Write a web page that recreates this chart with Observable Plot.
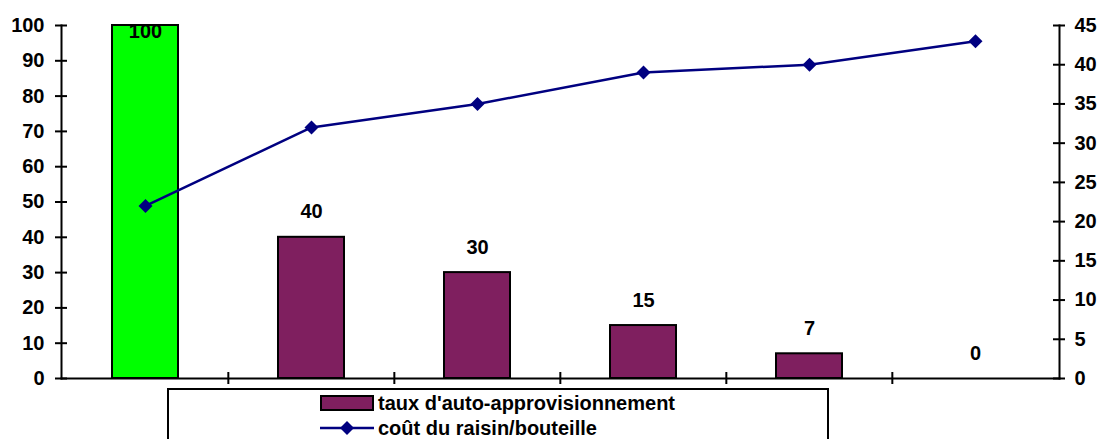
<!DOCTYPE html>
<html><head><meta charset="utf-8">
<script src="https://cdn.jsdelivr.net/npm/d3@7"></script>
<script src="https://cdn.jsdelivr.net/npm/@observablehq/plot@0.6"></script>
<style>
body{margin:0;background:#fff;font-family:"Liberation Sans",Arial,sans-serif;font-weight:bold;overflow:hidden}
#legend{position:relative;margin-left:167px;width:662px;height:70px;border:2px solid #000;box-sizing:border-box;}
.row{position:absolute;left:151px;height:24px;display:flex;align-items:center;font-size:20px;color:#000;white-space:nowrap}
.row .sw{width:54px;height:24px;margin-right:4px;display:flex;align-items:center;justify-content:center}
svg text, svg g{font-weight:bold !important}
</style></head><body><div id="chart"></div><div id="legend"></div>
<script>
const categories = [1, 2, 3, 4, 5, 6];
const selfSupply = [100, 40, 30, 15, 7, 0];
const grapeCost = [22, 32, 35, 39, 40, 43];
const leftTicks = [0, 10, 20, 30, 40, 50, 60, 70, 80, 90, 100];
const rightTicks = [0, 5, 10, 15, 20, 25, 30, 35, 40, 45];
const seriesNames = ["taux d'auto-approvisionnement", "coût du raisin/bouteille"];

const W = 1100, H = 388, mL = 61, mR = 41, mT = 25, mB = 10;
const plotW = W - mL - mR, plotH = H - mT - mB;
const step = plotW / categories.length;
const leftMax = d3.max(leftTicks), rightMax = d3.max(rightTicks);
const k = leftMax / rightMax;
const GREEN = "#00ff00", PURPLE = "#7f1f5f", NAVY = "#000080";

const rows = categories.map((c, i) => ({cat: c, v: selfSupply[i], cost: grapeCost[i]}));
const maxV = d3.max(selfSupply);

const chart = Plot.plot({
  width: W, height: H,
  marginLeft: mL, marginRight: mR, marginTop: mT, marginBottom: mB,
  style: {fontFamily: '"Liberation Sans", Arial, sans-serif', fontSize: "19px", fontWeight: "bold", color: "#000", background: "#fff"},
  x: {type: "band", domain: categories, paddingInner: 0.6, paddingOuter: 0.3, axis: null},
  y: {domain: [0, leftMax], axis: null},
  marks: [
    Plot.barY(rows, {x: "cat", y: "v", fill: d => d.v === maxV ? GREEN : PURPLE, stroke: "#000", strokeWidth: 2}),
    Plot.frame({anchor: "left", stroke: "#000", strokeWidth: 2}),
    Plot.frame({anchor: "right", stroke: "#000", strokeWidth: 2}),
    Plot.frame({anchor: "bottom", stroke: "#000", strokeWidth: 2}),
    Plot.tickY(leftTicks, {y: d => d, insetLeft: -6, insetRight: plotW - 6, stroke: "#000", strokeWidth: 2}),
    Plot.tickY(rightTicks, {y: d => d * k, insetLeft: plotW - 6, insetRight: -6, stroke: "#000", strokeWidth: 2}),
    Plot.tickX(categories.slice(1), {x: d => d, dx: -step / 2, insetTop: plotH - 6, insetBottom: -6, stroke: "#000", strokeWidth: 2}),
    Plot.axisY({anchor: "left", label: null, ticks: leftTicks, tickSize: 0, tickPadding: 17, fontSize: 20, fontWeight: "bold", fill: "#000"}),
    Plot.axisY({anchor: "right", label: null, ticks: rightTicks.map(v => v * k), tickFormat: d => String(Math.round(d / k)), tickSize: 0, tickPadding: 15, fontSize: 20, fontWeight: "bold", fill: "#000"}),
    Plot.line(rows, {x: "cat", y: d => d.cost * k, stroke: NAVY, strokeWidth: 2.5}),
    Plot.dot(rows, {x: "cat", y: d => d.cost * k, symbol: "diamond2", r: 6.3, fill: NAVY, stroke: null}),
    Plot.text(rows.filter(d => d.v < maxV), {x: "cat", y: "v", text: d => String(d.v), lineAnchor: "bottom", dy: -19, fontSize: 20, fontWeight: "bold", fill: "#000"}),
    Plot.text(rows.filter(d => d.v === maxV), {x: "cat", y: "v", text: d => String(d.v), lineAnchor: "top", dy: -2, fontSize: 20, fontWeight: "bold", fill: "#000"})
  ]
});
document.getElementById("chart").append(chart);

const legend = document.getElementById("legend");
const r1 = document.createElement("div");
r1.className = "row"; r1.style.top = "1px";
r1.innerHTML = `<div class="sw"><div style="width:50px;height:12px;background:${PURPLE};border:2px solid #000"></div></div><span></span>`;
r1.querySelector("span").textContent = seriesNames[0];
const r2 = document.createElement("div");
r2.className = "row"; r2.style.top = "26px";
r2.innerHTML = `<div class="sw"><svg width="54" height="16"><line x1="0" y1="8" x2="54" y2="8" stroke="${NAVY}" stroke-width="2.5"/><path d="M27,1 L34,8 L27,15 L20,8 Z" fill="${NAVY}"/></svg></div><span></span>`;
r2.querySelector("span").textContent = seriesNames[1];
legend.append(r1, r2);
</script>
</body></html>
